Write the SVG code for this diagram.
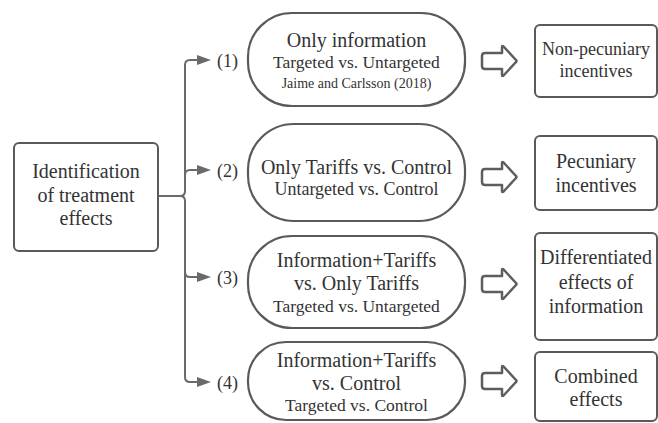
<svg xmlns="http://www.w3.org/2000/svg" width="658" height="423" viewBox="0 0 658 423" font-family="'Liberation Serif', 'Times New Roman', serif">
<defs>
<style>
.box{fill:#fff;stroke:#5a5a5a;stroke-width:2}
.pill{fill:#fff;stroke:#5a5a5a;stroke-width:2.2}
.conn{fill:none;stroke:#6a6a6a;stroke-width:2}
.harrow{fill:#fff;stroke:#5e5e5e;stroke-width:2.5;stroke-linejoin:round}
text{font-family:'Liberation Serif','Times New Roman',serif;fill:#333;text-anchor:middle}
.t20{font-size:20px}
.t18{font-size:18px}
.t175{font-size:17.5px}
.t14{font-size:14px}
.lbl{font-size:18px;text-anchor:start}
</style>
<marker id="ah" markerWidth="14" markerHeight="10" refX="0" refY="5" orient="auto" markerUnits="userSpaceOnUse">
<path d="M0,0 L14,5 L0,10 Z" fill="#6a6a6a"/>
</marker>
<path id="hollow" d="M3,-8 H20 V-14 Q20,-16 22,-14 L34,-1 Q35,0 34,1 L22,14 Q20,16 20,14 V8 H3 Q0,8 0,5 V-5 Q0,-8 3,-8 Z"/>
</defs>
<rect width="658" height="423" fill="#fff"/>

<g id="connectors">
<path class="conn" d="M158,196 H180"/>
<path class="conn" d="M180,196 Q185,196 185,191 V65 Q185,60 190,60 H197" marker-end="url(#ah)"/>
<path class="conn" d="M185,175 Q185,170 190,170 H197" marker-end="url(#ah)"/>
<path class="conn" d="M180,196 Q185,196 185,201 V272 Q185,277 190,277 H197" marker-end="url(#ah)"/>
<path class="conn" d="M185,272 V377 Q185,382 190,382 H197" marker-end="url(#ah)"/>
<use href="#hollow" class="harrow" x="482" y="61"/>
<use href="#hollow" class="harrow" x="482" y="177"/>
<use href="#hollow" class="harrow" x="482" y="284"/>
<use href="#hollow" class="harrow" x="482" y="381"/>
</g>

<g id="root">
<rect class="box" x="14" y="143" width="144" height="108" rx="5"/>
<text class="t20" x="86" y="178">Identification</text>
<text class="t20" x="86" y="202">of treatment</text>
<text class="t20" x="86" y="225">effects</text>
</g>

<g id="labels">
<text class="lbl" x="217" y="67">(1)</text>
<text class="lbl" x="217" y="177">(2)</text>
<text class="lbl" x="217" y="284">(3)</text>
<text class="lbl" x="217" y="389">(4)</text>
</g>

<g id="pill1">
<rect class="pill" x="248" y="13" width="217" height="93" rx="44" ry="44"/>
<text class="t20" x="356.5" y="47">Only information</text>
<text class="t175" x="356.5" y="68">Targeted vs. Untargeted</text>
<text class="t14" x="356.5" y="88">Jaime and Carlsson (2018)</text>
</g>

<g id="pill2">
<rect class="pill" x="248" y="124" width="217" height="97" rx="46" ry="46"/>
<text class="t20" x="356.5" y="174">Only Tariffs vs. Control</text>
<text class="t18" x="356.5" y="195">Untargeted vs. Control</text>
</g>

<g id="pill3">
<rect class="pill" x="248" y="236" width="217" height="92" rx="44" ry="44"/>
<text class="t20" x="356.5" y="267">Information+Tariffs</text>
<text class="t20" x="356.5" y="290">vs. Only Tariffs</text>
<text class="t175" x="356.5" y="312">Targeted vs. Untargeted</text>
</g>

<g id="pill4">
<rect class="pill" x="248" y="342" width="217" height="78" rx="38" ry="38"/>
<text class="t20" x="356.5" y="367">Information+Tariffs</text>
<text class="t20" x="356.5" y="390">vs. Control</text>
<text class="t175" x="356.5" y="411">Targeted vs. Control</text>
</g>

<g id="out1">
<rect class="box" x="535" y="25" width="122" height="72" rx="5"/>
<text class="t18" x="596" y="55">Non-pecuniary</text>
<text class="t18" x="596" y="77">incentives</text>
</g>

<g id="out2">
<rect class="box" x="535" y="136" width="122" height="74" rx="5"/>
<text class="t20" x="596" y="168">Pecuniary</text>
<text class="t20" x="596" y="192">incentives</text>
</g>

<g id="out3">
<rect class="box" x="535" y="233" width="122" height="107" rx="5"/>
<text class="t20" x="596" y="264">Differentiated</text>
<text class="t20" x="596" y="289">effects of</text>
<text class="t20" x="596" y="313">information</text>
</g>

<g id="out4">
<rect class="box" x="535" y="352" width="122" height="69" rx="5"/>
<text class="t20" x="596" y="383">Combined</text>
<text class="t20" x="596" y="406">effects</text>
</g>
</svg>
